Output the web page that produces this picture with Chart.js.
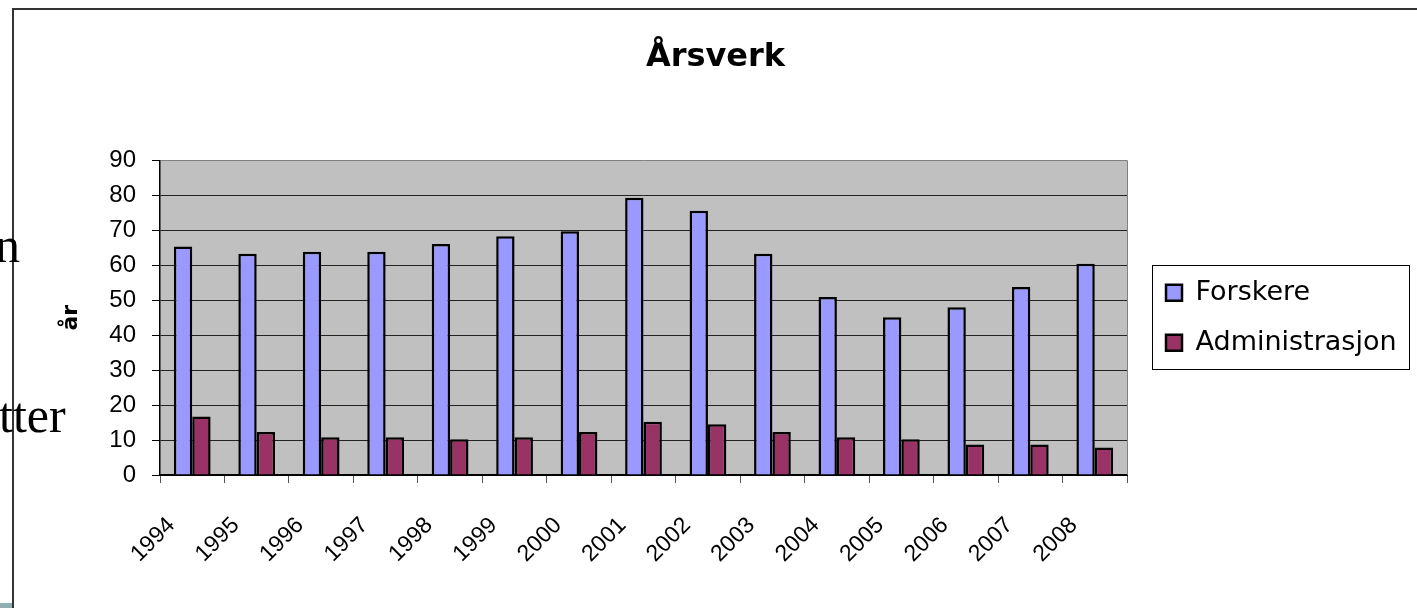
<!DOCTYPE html>
<html>
<head>
<meta charset="utf-8">
<script src="https://cdn.jsdelivr.net/npm/chart.js@4.4.1/dist/chart.umd.min.js"></script>
<style>
  html, body { margin: 0; padding: 0; background: #fff; }
  #page { position: relative; width: 1417px; height: 608px; overflow: hidden; background: #fff; }
  #frame { position: absolute; left: 12px; top: 8px; width: 1420px; height: 620px; border-left: 2px solid #333; border-top: 2px solid #333; }
  #strip { position: absolute; left: 0; top: 603px; width: 12px; height: 5px; background: #8fb0b0; }
  #box { position: absolute; left: 14px; top: 10px; width: 1403px; height: 598px; }
  .slide { position: absolute; font-family: 'Liberation Serif', serif; font-size: 50px; line-height: 1; color: #000; white-space: nowrap; z-index: 2; }
</style>
</head>
<body>
<div id="page">
  <div id="frame"></div>
  <div id="strip"></div>
  <div id="box"><canvas id="arsverkChart" width="1403" height="598"></canvas></div>
  <div class="slide" style="left:-5px; top:220px;">n</div>
  <div class="slide" style="left:-1px; top:390px;">tter</div>
</div>
<script>
  const years = ['1994', '1995', '1996', '1997', '1998', '1999', '2000', '2001',
                 '2002', '2003', '2004', '2005', '2006', '2007', '2008'];
  const forskere = [65.4, 63.3, 63.9, 63.9, 66.1, 68.3, 69.7, 79.3, 75.6, 63.3, 50.9, 45.1, 48.0, 53.8, 60.4];
  const administrasjon = [16.7, 12.3, 10.8, 10.8, 10.2, 10.8, 12.3, 15.2, 14.5, 12.3, 10.8, 10.2, 8.7, 8.7, 7.9];
  const seriesLabels = ['Forskere', 'Administrasjon'];
  const seriesColors = ['#9999ff', '#993366'];
  const chartTitle = 'Årsverk';
  const yTitle = 'år';

  const sansFont = "'Liberation Sans', Arial, sans-serif";
  const wideFont = "'DejaVu Sans', 'Liberation Sans', sans-serif";
  Chart.defaults.font.family = sansFont;
  Chart.defaults.color = '#000';

  // grå plotflate, ramme rundt plot og forklaring (Excel-stil)
  const excelLook = {
    id: 'excelLook',
    beforeLayout(chart) {
      const lg = chart.legend;
      if (lg && !lg._fixedWidth) {
        const fit = lg.fit;
        lg.fit = function () { fit.call(this); this.width = 290; };
        lg._fixedWidth = true;
      }
    },
    afterLayout(chart) {
      if (chart.legend) chart.legend.left += 16;
    },
    beforeDraw(chart) {
      const { ctx, chartArea: a } = chart;
      ctx.save();
      ctx.fillStyle = '#c0c0c0';
      ctx.fillRect(a.left, a.top, a.width, a.height);
      ctx.restore();
    },
    beforeDatasetsDraw(chart) {
      const { ctx, chartArea: a } = chart;
      ctx.save();
      ctx.strokeStyle = '#808080';
      ctx.lineWidth = 1;
      ctx.beginPath();
      ctx.moveTo(a.right + 0.5, a.top);
      ctx.lineTo(a.right + 0.5, a.bottom);
      ctx.stroke();
      ctx.restore();
    },
    afterDraw(chart) {
      const lg = chart.legend;
      if (!lg || !lg.legendHitBoxes.length) return;
      const hb = lg.legendHitBoxes;
      const last = hb[hb.length - 1];
      const x0 = Math.round(hb[0].left - 14) + 0.5;
      const y0 = Math.round(hb[0].top - 14.5) + 0.5;
      const x1 = Math.round(lg.right - 8) + 0.5;
      const y1 = Math.round(last.top + last.height + 12.5) + 0.5;
      const ctx = chart.ctx;
      ctx.save();
      ctx.strokeStyle = '#000';
      ctx.lineWidth = 1;
      ctx.strokeRect(x0, y0, x1 - x0, y1 - y0);
      ctx.restore();
    }
  };

  new Chart(document.getElementById('arsverkChart').getContext('2d'), {
    type: 'bar',
    data: {
      labels: years,
      datasets: [
        {
          label: seriesLabels[0],
          data: forskere,
          backgroundColor: seriesColors[0],
          borderColor: '#000',
          borderWidth: 2.5,
          categoryPercentage: 0.57,
          barPercentage: 1
        },
        {
          label: seriesLabels[1],
          data: administrasjon,
          backgroundColor: seriesColors[1],
          borderColor: '#000',
          borderWidth: 2.5,
          categoryPercentage: 0.57,
          barPercentage: 1
        }
      ]
    },
    options: {
      responsive: false,
      animation: false,
      devicePixelRatio: 1,
      layout: { padding: 0 },
      plugins: {
        title: {
          display: true,
          text: chartTitle,
          font: { family: wideFont, size: 32, weight: 'bold' },
          color: '#000',
          padding: { top: 28, bottom: 84 }
        },
        legend: {
          display: true,
          position: 'right',
          fullSize: false,
          labels: {
            font: { family: wideFont, size: 27 },
            color: '#000',
            boxWidth: 16,
            boxHeight: 16,
            padding: 23
          }
        },
        tooltip: { enabled: false }
      },
      scales: {
        x: {
          grid: { display: true, drawOnChartArea: false, drawTicks: true, tickLength: 8, color: '#555', offset: true },
          border: { display: true, color: '#000', width: 2 },
          ticks: { font: { size: 23 }, color: '#000', minRotation: 45, maxRotation: 45, autoSkip: false, padding: 29, labelOffset: -21 },
          afterFit: s => { s.height = 133; }
        },
        y: {
          min: 0,
          max: 90,
          ticks: { stepSize: 10, font: { size: 24 }, color: '#000', padding: 16 },
          grid: {
            color: c => (c.tick && c.tick.value === 90 ? '#808080' : '#222'),
            tickColor: '#000',
            tickLength: 8,
            lineWidth: 1
          },
          border: { display: true, color: '#000', width: 1.5 },
          title: { display: true, text: yTitle, font: { family: wideFont, size: 22, weight: 'bold' }, color: '#000', padding: { top: 44, bottom: 0 } },
          afterFit: s => { s.width = 146; }
        }
      }
    },
    plugins: [excelLook]
  });
</script>
</body>
</html>
